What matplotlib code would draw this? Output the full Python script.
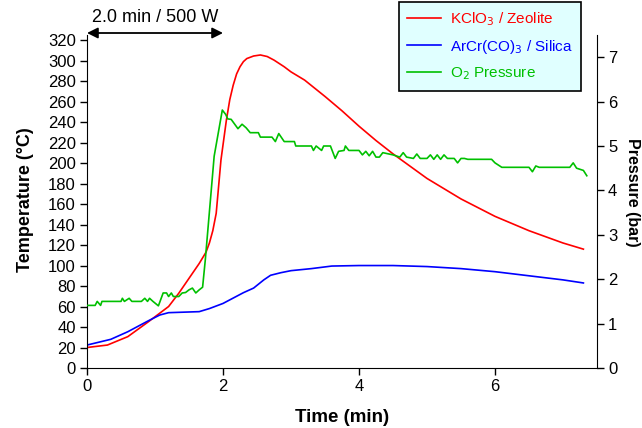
import matplotlib
matplotlib.use("Agg")
import matplotlib.pyplot as plt
from matplotlib.lines import Line2D

plt.rcParams['font.family'] = ['Liberation Sans', 'DejaVu Sans']

# KClO3 / Zeolite temperature (°C)
red_t = [0, 0.3, 0.6, 0.9, 1.2, 1.35, 1.5, 1.65, 1.75, 1.8, 1.85, 1.9, 1.97, 2.05, 2.1,
         2.15, 2.2, 2.25, 2.3, 2.35, 2.45, 2.55, 2.65, 2.75, 2.9, 3.0, 3.2, 3.5, 3.75,
         4.0, 4.25, 4.5, 4.75, 5.0, 5.5, 6.0, 6.5, 7.0, 7.3]
red_T = [20, 22.4, 30.6, 45, 60, 73, 87.5, 102, 113, 122, 134, 151, 203, 242, 262,
         276, 287, 294, 299, 302, 304.5, 305.5, 304, 300.5, 294, 289, 281, 265, 251,
         236, 222, 209, 197, 185, 165, 148, 134, 122, 116]

# ArCr(CO)3 / Silica temperature (°C)
blue_t = [0, 0.35, 0.6, 0.9, 1.07, 1.2, 1.65, 1.8, 2.0, 2.3, 2.45, 2.6, 2.7, 2.85, 3.0,
          3.3, 3.6, 4.0, 4.5, 5.0, 5.5, 6.0, 6.5, 7.0, 7.3]
blue_T = [22.4, 28, 35.4, 46, 51.7, 54, 55, 58, 63, 73.5, 78, 86, 90.5, 93, 95,
          97, 99.5, 100, 100, 99, 97, 94, 90, 86, 83]

# O2 pressure (bar)
green_t = [0, 0.12, 0.15, 0.2, 0.22, 0.5, 0.52, 0.55, 0.62, 0.66, 0.8, 0.85, 0.89,
           0.92, 0.97, 1.05, 1.12, 1.17, 1.2, 1.24, 1.27, 1.35, 1.4, 1.45, 1.5,
           1.55, 1.6, 1.65, 1.7, 1.74, 1.87, 1.99, 2.04, 2.07, 2.12, 2.22, 2.28,
           2.34, 2.40, 2.52, 2.55, 2.72, 2.77, 2.82, 2.9, 3.05, 3.07, 3.3, 3.33,
           3.37, 3.45, 3.48, 3.58, 3.65, 3.7, 3.78, 3.8, 3.85, 4.0, 4.05, 4.1, 4.15,
           4.2, 4.25, 4.3, 4.35, 4.5, 4.6, 4.65, 4.7, 4.8, 4.85, 4.9, 5.0, 5.05,
           5.1, 5.15, 5.2, 5.25, 5.3, 5.4, 5.45, 5.5, 5.55, 5.6, 5.95, 6.0, 6.1,
           6.5, 6.55, 6.6, 6.65, 7.1, 7.15, 7.2, 7.3, 7.35]
green_P = [1.41, 1.41, 1.50, 1.41, 1.50, 1.50, 1.57, 1.50, 1.57, 1.50, 1.50, 1.57,
           1.50, 1.57, 1.50, 1.40, 1.69, 1.69, 1.61, 1.69, 1.61, 1.61, 1.69, 1.70,
           1.76, 1.80, 1.69, 1.76, 1.82, 2.44, 4.77, 5.81, 5.71, 5.61, 5.60, 5.39,
           5.49, 5.41, 5.30, 5.30, 5.20, 5.20, 5.10, 5.28, 5.10, 5.10, 5.00, 5.00,
           4.90, 5.00, 4.90, 5.00, 5.00, 4.72, 4.88, 4.90, 5.00, 4.90, 4.90, 4.80,
           4.88, 4.78, 4.88, 4.75, 4.75, 4.85, 4.80, 4.75, 4.85, 4.75, 4.72, 4.82,
           4.72, 4.72, 4.80, 4.70, 4.80, 4.70, 4.80, 4.72, 4.72, 4.62, 4.72, 4.72,
           4.70, 4.70, 4.62, 4.52, 4.52, 4.42, 4.55, 4.52, 4.52, 4.62, 4.50, 4.45,
           4.33]

x_ticks = [0, 2, 4, 6]
left_ticks = list(range(0, 321, 20))
right_ticks = list(range(0, 8))

fig = plt.figure(figsize=(6.42, 4.28), dpi=100)
ax = fig.add_axes([87 / 642, 60 / 428, 510 / 642, 333 / 428])
ax2 = ax.twinx()

ax.plot(red_t, red_T, color='#ff0000', lw=1.2)
ax.plot(blue_t, blue_T, color='#0000ff', lw=1.2)
ax2.plot(green_t, green_P, color='#00c000', lw=1.2)

ax.set_xlim(0, 7.5)
ax.set_ylim(0, 325)
ax2.set_ylim(0, 7.5)
ax.set_xticks(x_ticks)
ax.set_yticks(left_ticks)
ax2.set_yticks(right_ticks)

for a in (ax, ax2):
    a.spines['top'].set_visible(False)
    a.tick_params(labelsize=12, length=5, width=1, direction='out', pad=3)
ax.spines['right'].set_visible(False)
ax2.spines['left'].set_visible(False)
ax2.spines['bottom'].set_visible(False)

ax.set_xlabel('Time (min)', fontsize=13.5, fontweight='bold', va='center')
ax.xaxis.set_label_coords(0.5, -0.15)
ax.set_ylabel('Temperature (°C)', fontsize=13, fontweight='bold', va='center')
ax.yaxis.set_label_coords(-0.12, 0.505)
ax2.set_ylabel('Pressure (bar)', fontsize=11.5, fontweight='bold', rotation=270,
               va='center')
ax2.yaxis.set_label_coords(1.069, 0.529)

# heating annotation
ax.annotate('', xy=(2.0, 1.006), xytext=(0, 1.006),
            xycoords=('data', 'axes fraction'),
            arrowprops=dict(arrowstyle='<|-|>', color='black', lw=1.3,
                            shrinkA=0, shrinkB=0, mutation_scale=16))
ax.text(1.0, 1.053, '2.0 min / 500 W', transform=ax.get_xaxis_transform(),
        ha='center', va='center', fontsize=13)

handles = [Line2D([], [], color='#ff0000', lw=1.2),
           Line2D([], [], color='#0000ff', lw=1.2),
           Line2D([], [], color='#00c000', lw=1.2)]
labels = ['KClO$_3$ / Zeolite', 'ArCr(CO)$_3$ / Silica', 'O$_2$ Pressure']
leg = fig.legend(handles, labels, loc='upper left', bbox_to_anchor=(397 / 642, 1.0),
                 fontsize=11, frameon=True, fancybox=False, edgecolor='black',
                 facecolor='#e0ffff', framealpha=1, borderpad=0.55, labelspacing=0.65,
                 handlelength=2.2, handletextpad=0.6, borderaxespad=0.1)
leg.get_frame().set_linewidth(1.2)
for txt, c in zip(leg.get_texts(), ['#ff0000', '#0000ff', '#00c000']):
    txt.set_color(c)

fig.savefig('out.png', dpi=100)
